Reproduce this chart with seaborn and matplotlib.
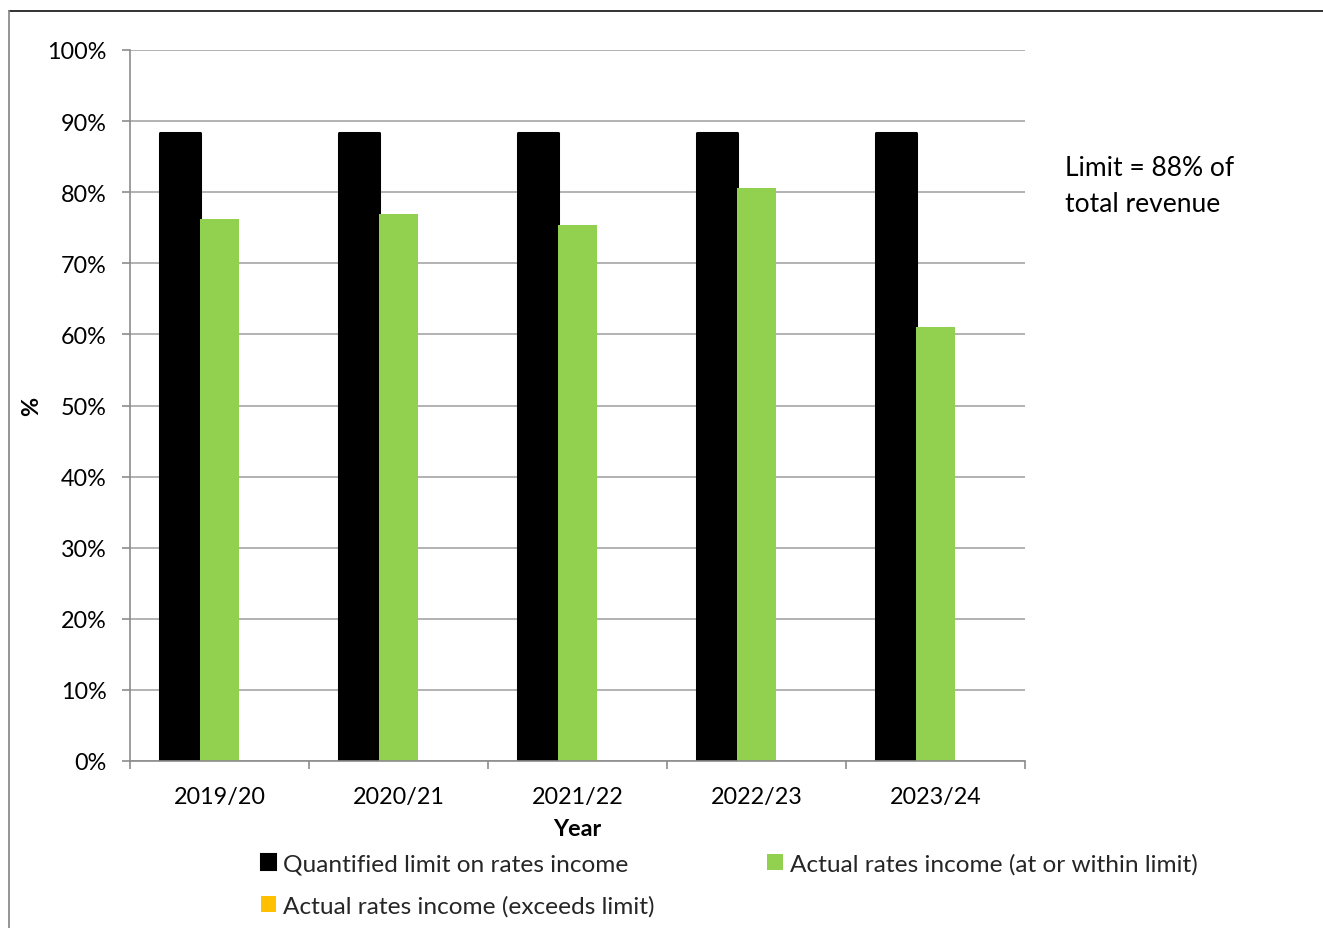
import matplotlib
matplotlib.use("Agg")
import matplotlib.pyplot as plt
from matplotlib.patches import Patch
from matplotlib.lines import Line2D
from matplotlib.ticker import FixedLocator, PercentFormatter
import seaborn as sns
import pandas as pd
import numpy as np

years = ["2019/20", "2020/21", "2021/22", "2022/23", "2023/24"]
limit_vals = [88.3, 88.3, 88.3, 88.3, 88.3]
actual_within = [76.2, 77.0, 75.4, 80.6, 61.0]
actual_exceeds = [0, 0, 0, 0, 0]
series_names = ["Quantified limit on rates income",
                "Actual rates income (at or within limit)",
                "Actual rates income (exceeds limit)"]
colors = ["#000000", "#92D050", "#FFC000"]
y_ticks = [0, 10, 20, 30, 40, 50, 60, 70, 80, 90, 100]

df = pd.DataFrame({
    "Year": years * 3,
    "value": limit_vals + actual_within + actual_exceeds,
    "series": [series_names[0]] * 5 + [series_names[1]] * 5 + [series_names[2]] * 5,
})

sns.set_theme(style="white")
plt.rcParams["font.family"] = ["Lato", "DejaVu Sans"]

fig = plt.figure(figsize=(13.23, 9.29), dpi=100)
ax = fig.add_axes([130 / 1323, 1 - 762 / 929, (1025 - 130) / 1323, (762 - 51) / 929])

sns.barplot(data=df, x="Year", y="value", hue="series", hue_order=series_names,
            palette=colors, width=0.67, dodge=True, saturation=1, legend=False,
            ax=ax, errorbar=None)

for i, cont in enumerate(ax.containers):
    for p in cont:
        if i == 0:
            p.set_edgecolor("#000000")
            p.set_linewidth(2.2)
            p.set_joinstyle("round")
        else:
            p.set_linewidth(0)
        if i == 2:
            p.set_visible(False)

grid_col = "#A6A6A6"
ax.set_ylim(0, 100)
ax.set_xlim(-0.5, len(years) - 0.5)
ax.yaxis.set_major_locator(FixedLocator(y_ticks))
ax.yaxis.set_major_formatter(PercentFormatter(decimals=0))
ax.yaxis.grid(True, color=grid_col, linewidth=1.2)
ax.set_axisbelow(True)
for s in ["top", "right"]:
    ax.spines[s].set_visible(False)
for s in ["left", "bottom"]:
    ax.spines[s].set_color("#8C8C8C")
    ax.spines[s].set_linewidth(1.2)

ax.tick_params(axis="y", which="major", direction="out", length=6, width=1.2,
               color="#8C8C8C", pad=11, labelsize=16.8, labelcolor="#000000", left=True)
ax.set_xticks(np.arange(-0.5, len(years)), minor=True)
ax.tick_params(axis="x", which="minor", direction="out", length=6, width=1.2,
               color="#8C8C8C", bottom=True)
ax.tick_params(axis="x", which="major", length=0, pad=18, labelsize=16.8, labelcolor="#000000")

ax.set_xlabel("Year", fontsize=16.8, fontweight="bold", color="#000000")
ax.xaxis.set_label_coords(0.5, -(830 - 762) / 711, transform=ax.transAxes)
ax.xaxis.label.set_va("center")
ax.set_ylabel("%", fontsize=16.8, fontweight="bold", color="#000000")
ax.yaxis.set_label_coords((32 - 130) / 895, 0.5)
ax.yaxis.label.set_va("center")

fig.text(1065 / 1323, 1 - 186 / 929, "Limit = 88% of\ntotal revenue", fontsize=19,
         ha="left", va="center", linespacing=1.55, color="#000000")

handles = [
    Patch(facecolor=colors[0], edgecolor=colors[0], linewidth=1.5, joinstyle="round", label=series_names[0]),
    Patch(facecolor=colors[2], edgecolor="none", label=series_names[2]),
    Patch(facecolor=colors[1], edgecolor="none", label=series_names[1]),
]
fig.legend(handles=handles, ncol=2, loc="upper left",
           bbox_to_anchor=(261 / 1323, 1 - 854 / 929), frameon=False,
           fontsize=17.6, handlelength=0.62, handleheight=0.62, handletextpad=0.3,
           columnspacing=4.6, labelspacing=0.85, borderaxespad=0, borderpad=0)

fig.add_artist(Line2D([9 / 1323, 1], [1 - 12 / 929, 1 - 12 / 929], color="#222222", linewidth=1.3,
                      transform=fig.transFigure))
fig.add_artist(Line2D([9 / 1323, 9 / 1323], [0, 1 - 12 / 929], color="#8C8C8C", linewidth=1.3,
                      transform=fig.transFigure))

fig.savefig("out.png", dpi=100)
